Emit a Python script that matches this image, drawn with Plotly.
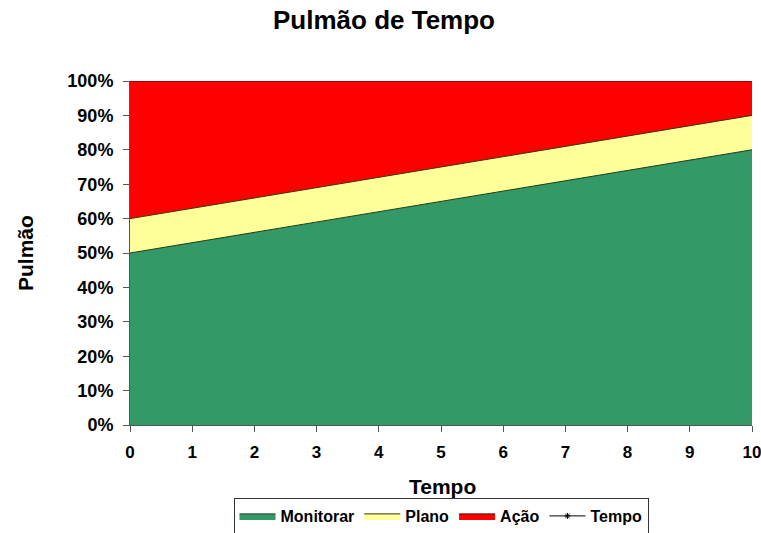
import plotly.graph_objects as go

tempo = [0, 1, 2, 3, 4, 5, 6, 7, 8, 9, 10]
monitorar = [50, 53, 56, 59, 62, 65, 68, 71, 74, 77, 80]
plano = [10, 10, 10, 10, 10, 10, 10, 10, 10, 10, 10]
acao = [40, 37, 34, 31, 28, 25, 22, 19, 16, 13, 10]
y_ticks = [0, 10, 20, 30, 40, 50, 60, 70, 80, 90, 100]

FONT = "Liberation Sans, Arial, sans-serif"

W, H = 761, 533
L, R = 130, 752      # plot left/right edges in px
T, B = 81, 425       # plot top/bottom edges in px
pw, ph = R - L, B - T

fig = go.Figure()
fig.add_trace(go.Scatter(x=tempo, y=monitorar, name="<b>Monitorar</b>", stackgroup="s",
                         mode="lines", line=dict(color="#1a3a1a", width=1),
                         fillcolor="#339966"))
fig.add_trace(go.Scatter(x=tempo, y=plano, name="<b>Plano</b>", stackgroup="s",
                         mode="lines", line=dict(color="#333300", width=1),
                         fillcolor="#FFFF99"))
fig.add_trace(go.Scatter(x=tempo, y=acao, name="<b>Ação</b>", stackgroup="s",
                         mode="lines", line=dict(color="#550000", width=1),
                         fillcolor="#FF0000"))
fig.add_trace(go.Scatter(x=[None], y=[None], name="<b>Tempo</b>", mode="lines+markers",
                         line=dict(color="black", width=1),
                         marker=dict(symbol="asterisk", size=5, color="black",
                                     line=dict(color="black", width=1))))

fig.update_layout(
    width=W, height=H,
    margin=dict(l=L, r=W - R, t=T, b=H - B, autoexpand=False),
    paper_bgcolor="white", plot_bgcolor="white",
    font=dict(family=FONT, color="black", size=14),
    title=dict(text="<b>Pulmão de Tempo</b>", x=384 / W, xref="container",
               xanchor="center", y=1 - 20 / H, yref="container", yanchor="middle",
               font=dict(size=26, family=FONT)),
    showlegend=True,
    legend=dict(orientation="h", x=0.5, xanchor="center", y=(B - 498) / ph,
                yanchor="top", bordercolor="#333333", borderwidth=1, itemwidth=36,
                font=dict(size=16, family=FONT), tracegroupgap=0, traceorder="normal"),
    xaxis=dict(range=[0, 10], tickvals=tempo, ticktext=[f"<b>{v}</b>" for v in tempo],
               ticks="outside", ticklen=6, automargin=False, ticklabelstandoff=6,
               ticklabeloverflow="allow",
               tickcolor="#555555", showline=True, linecolor="#555555", linewidth=1,
               showgrid=False, zeroline=False,
               tickfont=dict(size=17, family=FONT)),
    yaxis=dict(range=[0, 100], tickvals=y_ticks, ticktext=[f"<b>{v}%</b>" for v in y_ticks],
               ticks="outside", ticklen=6, tickcolor="#555555", automargin=False,
               ticklabelstandoff=6, ticklabeloverflow="allow",
               showline=True, linecolor="#555555", linewidth=1,
               showgrid=False, zeroline=False,
               tickfont=dict(size=18, family=FONT)),
)
fig.add_annotation(text="<b>Tempo</b>", x=(442 - L) / pw, xref="paper", y=(B - 486) / ph,
                   yref="paper", showarrow=False, xanchor="center", yanchor="middle",
                   font=dict(size=21, family=FONT))
fig.add_annotation(text="<b>Pulmão</b>", x=(25 - L) / pw, xref="paper",
                   y=(B - 253) / ph, yref="paper", showarrow=False, textangle=-90,
                   xanchor="center", yanchor="middle",
                   font=dict(size=21, family=FONT))

fig.write_html("out.html", config={"displayModeBar": False},
               post_script="document.body.style.margin='0';document.body.style.overflow='hidden';")
